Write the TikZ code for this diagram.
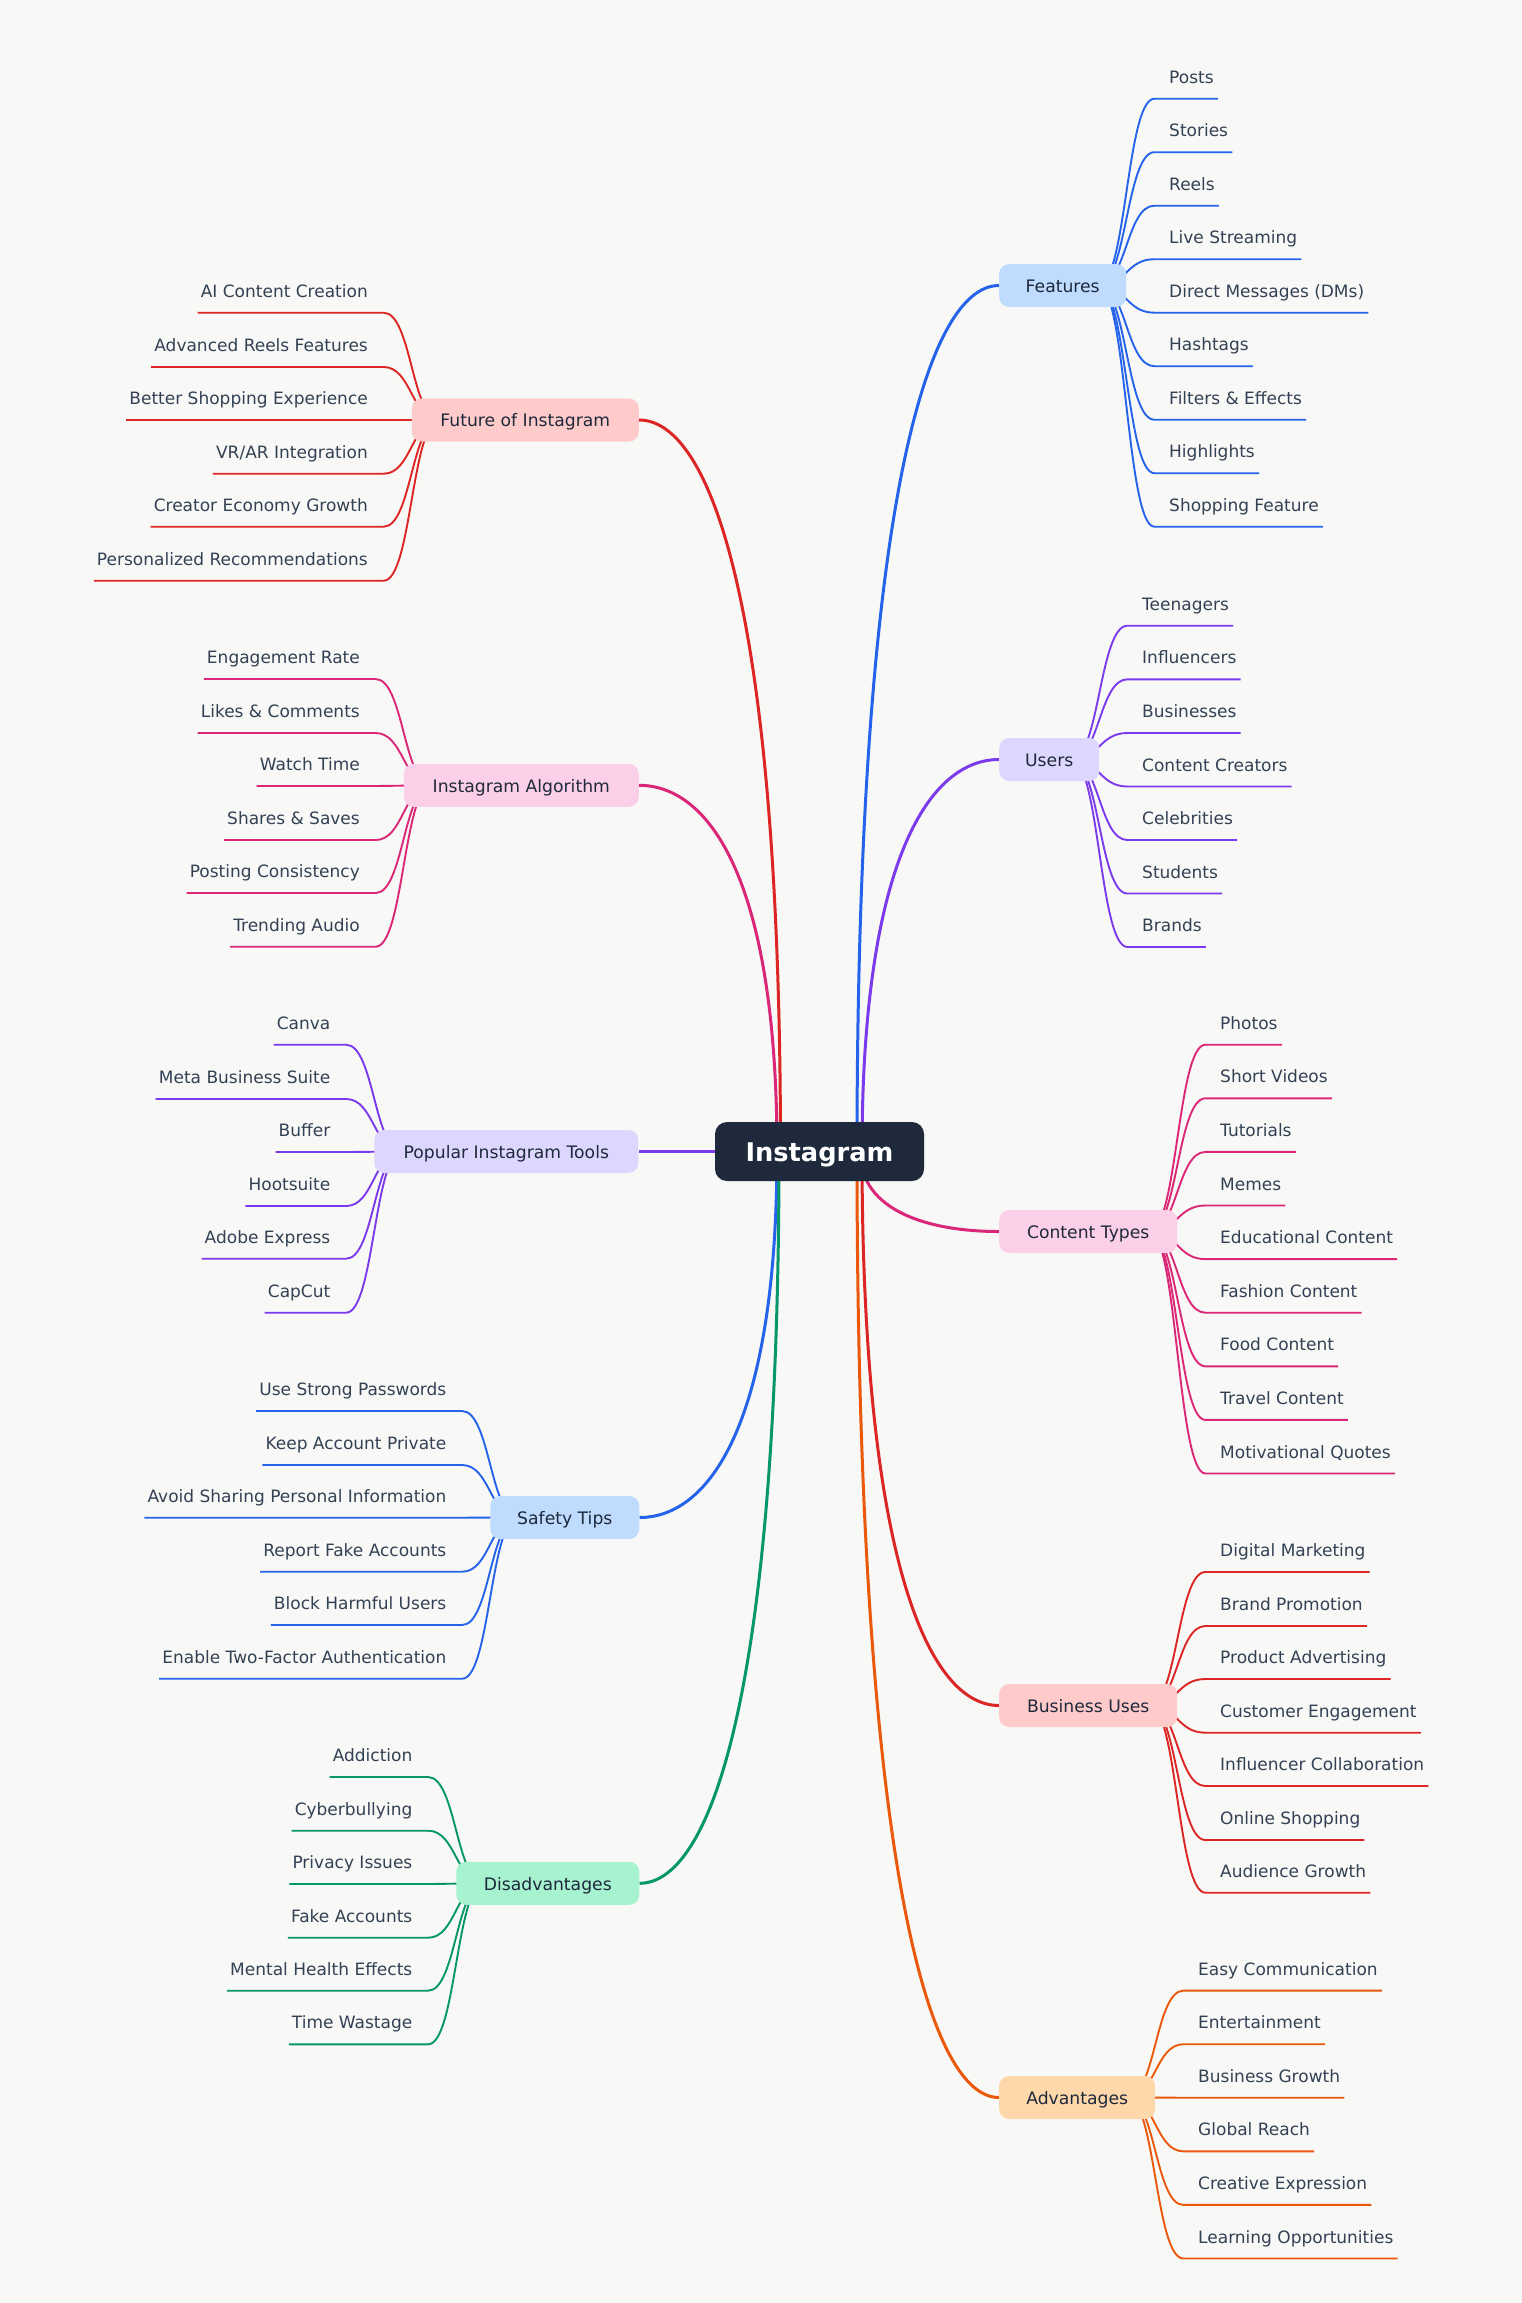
\documentclass[tikz,border=0pt]{standalone}
\usepackage{fontspec}
\setmainfont{DejaVu Sans}
\usetikzlibrary{calc}
\pgfdeclarelayer{bg}
\pgfsetlayers{bg,main}
\definecolor{bgc}{HTML}{F8F8F6}
\definecolor{leaftext}{HTML}{334155}
\definecolor{nodetext}{HTML}{1E293B}
\definecolor{hubfill}{HTML}{1E293B}
\definecolor{blueE}{HTML}{2563EB}\definecolor{blueF}{HTML}{BFDBFE}
\definecolor{violetE}{HTML}{7C3AED}\definecolor{violetF}{HTML}{DDD6FE}
\definecolor{pinkE}{HTML}{DB2777}\definecolor{pinkF}{HTML}{FBCFE8}
\definecolor{redE}{HTML}{DC2626}\definecolor{redF}{HTML}{FECACA}
\definecolor{orangeE}{HTML}{EA580C}\definecolor{orangeF}{HTML}{FED7AA}
\definecolor{greenE}{HTML}{059669}\definecolor{greenF}{HTML}{A7F3D0}
\tikzset{
  leaf/.style={inner sep=0pt, font=\fontsize{17}{20}\selectfont, text=leaftext},
  branch/.style={rounded corners=10pt, minimum height=43pt, inner sep=0pt,
    text height=13.6pt, text depth=0pt,
    font=\fontsize{17.2}{20}\selectfont, text=nodetext},
  hub/.style={rounded corners=12pt, minimum height=59pt, minimum width=209pt, inner sep=0pt,
    text height=20pt, text depth=0pt,
    fill=hubfill, text=white, font=\fontsize{25.7}{30}\selectfont\bfseries},
  leafedge/.style={line width=1.9pt},
  mainedge/.style={line width=3pt},
}
\newcommand\rleaves[4]{%
  \foreach \txt/\ly [count=\i] in {#4}{%
    \node[leaf, anchor=base west] (#1\i) at (#3+43, \ly-15.5) {\txt};
    \begin{pgfonlayer}{bg}
    \draw[leafedge, #2] ([xshift=-28pt]#1.east) .. controls (#1.east) and (#1.east |- 0,\ly) ..
      ([xshift=28pt]#1.east |- 0,\ly) -- ([xshift=4pt]#1\i.east |- 0,\ly);
    \end{pgfonlayer}
  }}
\newcommand\lleaves[4]{%
  \foreach \txt/\ly [count=\i] in {#4}{%
    \node[leaf, anchor=base east] (#1\i) at (#3-44, \ly-15.5) {\txt};
    \begin{pgfonlayer}{bg}
    \draw[leafedge, #2] ([xshift=28pt]#1.west) .. controls (#1.west) and (#1.west |- 0,\ly) ..
      ([xshift=-28pt]#1.west |- 0,\ly) -- ([xshift=-3pt]#1\i.west |- 0,\ly);
    \end{pgfonlayer}
  }}
\newcommand\mainedge[3]{%
  \draw[mainedge,#1] (#2) .. controls ($(#2)!0.75!(#2 |- #3)$) and ($(#2 |- #3)!0.5!(#3)$) .. (#3);}
\begin{document}
\begin{tikzpicture}[x=1pt,y=-1pt]
\begin{pgfonlayer}{bg}
\fill[bgc] (0,0) rectangle (1522,2303);
\end{pgfonlayer}
\useasboundingbox (0,0) rectangle (1522,2303);

% central node
\node[hub] (ins) at (819.5,1151.5) {Instagram};

% branch nodes
\node[branch, fill=blueF, anchor=west, minimum width=127pt] (feat) at (999,285.5) {Features};
\node[branch, fill=violetF, anchor=west, minimum width=100pt] (users) at (999,759.5) {Users};
\node[branch, fill=pinkF, anchor=west, minimum width=178pt] (ctype) at (999,1231.5) {Content Types};
\node[branch, fill=redF, anchor=west, minimum width=178pt] (buses) at (999,1705.5) {Business Uses};
\node[branch, fill=orangeF, anchor=west, minimum width=156pt] (adv) at (999,2097.5) {Advantages};
\node[branch, fill=redF, anchor=east, minimum width=227pt] (fut) at (639,420) {Future of Instagram};
\node[branch, fill=pinkF, anchor=east, minimum width=235pt] (algo) at (639,785.3) {Instagram Algorithm};
\node[branch, fill=violetF, anchor=east, minimum width=264pt] (tools) at (638.5,1151.5) {Popular Instagram Tools};
\node[branch, fill=blueF, anchor=east, minimum width=149pt] (safe) at (639.5,1517.5) {Safety Tips};
\node[branch, fill=greenF, anchor=east, minimum width=183pt] (disadv) at (639.5,1883.3) {Disadvantages};

% start points of the main connectors (inside the central node)
\coordinate (sFut) at (780.5,1151.5);
\coordinate (sAlgo) at (777,1151.5);
\coordinate (sTools) at (778,1151.5);
\coordinate (sSafe) at (777,1151.5);
\coordinate (sDis) at (779,1151.5);
\coordinate (sFeat) at (857,1151.5);
\coordinate (sUsers) at (862,1151.5);
\coordinate (sCt) at (860,1151.5);
\coordinate (sBu) at (862,1151.5);
\coordinate (sAdv) at (857,1151.5);

\begin{pgfonlayer}{bg}
\mainedge{redE}{sFut}{fut.east}
\mainedge{pinkE}{sAlgo}{algo.east}
\draw[mainedge,violetE] (sTools) -- (tools.east);
\mainedge{blueE}{sSafe}{safe.east}
\mainedge{greenE}{sDis}{disadv.east}
\mainedge{blueE}{sFeat}{feat.west}
\mainedge{violetE}{sUsers}{users.west}
\mainedge{pinkE}{sCt}{ctype.west}
\mainedge{redE}{sBu}{buses.west}
\mainedge{orangeE}{sAdv}{adv.west}
\end{pgfonlayer}

% leaves
\rleaves{feat}{blueE}{1126}{Posts/98.7, Stories/152.2, Reels/205.7, Live Streaming/259.2,
  Direct Messages (DMs)/312.7, Hashtags/366.2, Filters \& Effects/419.7, Highlights/473.2,
  Shopping Feature/526.7}
\rleaves{users}{violetE}{1099}{Teenagers/625.7, Influencers/679.3, Businesses/733,
  Content Creators/786.5, Celebrities/840, Students/893.5, Brands/947}
\rleaves{ctype}{pinkE}{1177}{Photos/1044.7, Short Videos/1098.3, Tutorials/1151.9, Memes/1205.5,
  Educational Content/1259.1, Fashion Content/1312.7, Food Content/1366.3,
  Travel Content/1419.9, Motivational Quotes/1473.5}
\rleaves{buses}{redE}{1177}{Digital Marketing/1572, Brand Promotion/1626, Product Advertising/1679,
  Customer Engagement/1732.7, Influencer Collaboration/1786, Online Shopping/1840,
  Audience Growth/1892.7}
\rleaves{adv}{orangeE}{1155}{Easy Communication/1990.6, Entertainment/2044.2,
  Business Growth/2097.7, Global Reach/2151.3, Creative Expression/2204.9,
  Learning Opportunities/2258.5}
\lleaves{fut}{redE}{412}{AI Content Creation/312.7, Advanced Reels Features/367,
  Better Shopping Experience/420, {VR/AR Integration}/473.7, Creator Economy Growth/526.7,
  Personalized Recommendations/580.7}
\lleaves{algo}{pinkE}{404}{Engagement Rate/679, Likes \& Comments/733, Watch Time/786,
  Shares \& Saves/840, Posting Consistency/893, Trending Audio/946.7}
\lleaves{tools}{violetE}{374.5}{Canva/1044.7, Meta Business Suite/1099, Buffer/1152,
  Hootsuite/1206, Adobe Express/1258.7, CapCut/1312.7}
\lleaves{safe}{blueE}{490.5}{Use Strong Passwords/1411, Keep Account Private/1465,
  Avoid Sharing Personal Information/1517.7, Report Fake Accounts/1571.7,
  Block Harmful Users/1625, Enable Two-Factor Authentication/1678.7}
\lleaves{disadv}{greenE}{456.5}{Addiction/1777, Cyberbullying/1830.7, Privacy Issues/1884,
  Fake Accounts/1937.7, Mental Health Effects/1990.7, Time Wastage/2044.3}
\end{tikzpicture}
\end{document}
